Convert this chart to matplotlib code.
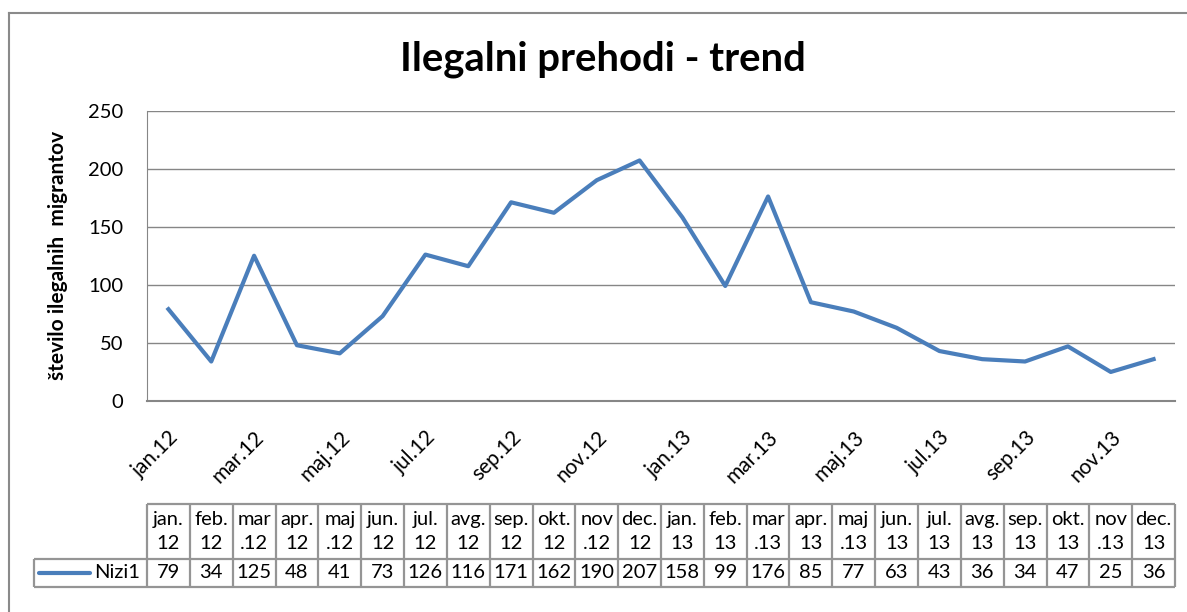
import matplotlib
matplotlib.use("Agg")
import matplotlib.pyplot as plt
from matplotlib.lines import Line2D
from matplotlib.transforms import ScaledTranslation

plt.rcParams['font.family'] = ['Lato', 'DejaVu Sans']

# ---------------- data ----------------
categories = ["jan.12", "feb.12", "mar.12", "apr.12", "maj.12", "jun.12",
              "jul.12", "avg.12", "sep.12", "okt.12", "nov.12", "dec.12",
              "jan.13", "feb.13", "mar.13", "apr.13", "maj.13", "jun.13",
              "jul.13", "avg.13", "sep.13", "okt.13", "nov.13", "dec.13"]
table_headers = ["jan.\n12", "feb.\n12", "mar\n.12", "apr.\n12", "maj\n.12", "jun.\n12",
                 "jul.\n12", "avg.\n12", "sep.\n12", "okt.\n12", "nov\n.12", "dec.\n12",
                 "jan.\n13", "feb.\n13", "mar\n.13", "apr.\n13", "maj\n.13", "jun.\n13",
                 "jul.\n13", "avg.\n13", "sep.\n13", "okt.\n13", "nov\n.13", "dec.\n13"]
values = [79, 34, 125, 48, 41, 73, 126, 116, 171, 162, 190, 207,
          158, 99, 176, 85, 77, 63, 43, 36, 34, 47, 25, 36]
series_name = "Nizi1"
yticks = [0, 50, 100, 150, 200, 250]
title = "Ilegalni prehodi - trend"
ylabel = "število ilegalnih  migrantov"

# ---------------- layout ----------------
W, H = 1187, 612
fig = plt.figure(figsize=(W / 100, H / 100), dpi=100)

def fx(px):
    return px / W

def fy(py):
    return 1 - py / H

line_color = "#4a7ebb"
grid_color = "#868686"
tbl_color = "#959595"
fs = 14.5

ax_l, ax_r = 147, 1175
ax_t, ax_b = 110.5, 401
ax = fig.add_axes([fx(ax_l), fy(ax_b), fx(ax_r - ax_l), (ax_b - ax_t) / H])
x = list(range(len(categories)))
ax.plot(x, values, color=line_color, lw=3.0, solid_joinstyle='round', zorder=3)
ax.set_xlim(-0.5, len(categories) - 0.5)
ax.set_ylim(0, 250)
ax.set_yticks(yticks)
ax.set_yticklabels([str(v) for v in yticks], fontsize=fs)
ax.yaxis.grid(True, color=grid_color, lw=1.0)
ax.set_axisbelow(True)
for s in ["top", "right"]:
    ax.spines[s].set_visible(False)
ax.spines["left"].set_color(grid_color)
ax.spines["bottom"].set_color(grid_color)
ax.spines["bottom"].set_linewidth(1.5)
ax.tick_params(axis='y', length=0, pad=17)
ax.tick_params(axis='x', length=0)

ax.set_xticks(x[::2])
ax.set_xticklabels(categories[::2], fontsize=15, rotation=45,
                   ha='right', va='center', rotation_mode='anchor')
offset = ScaledTranslation(7 / 100, -28 / 100, fig.dpi_scale_trans)
for lab in ax.get_xticklabels():
    lab.set_transform(lab.get_transform() + offset)

ax.set_ylabel(ylabel, fontsize=15, fontweight='bold')
ax.yaxis.set_label_coords((68 - ax_l) / (ax_r - ax_l), 0.5)

fig.text(fx(603), fy(59), title, fontsize=28.8, fontweight='bold',
         ha='center', va='center')

# ---------------- data table ----------------
tb_t, tb_m, tb_b = 504, 559, 587
tax = fig.add_axes([fx(ax_l), fy(tb_b), fx(ax_r - ax_l), (tb_b - tb_t) / H])
tax.set_xlim(-0.5, len(categories) - 0.5)
tax.set_ylim(0, tb_b - tb_t)
tax.axis('off')
row_h = tb_b - tb_m
hdr_top = tb_b - tb_t
n = len(categories)
col_w = (ax_r - ax_l) / n
leg_left = -0.5 - (ax_l - 33.5) / col_w

kw = dict(color=tbl_color, lw=1.6, clip_on=False, solid_capstyle='butt')
# horizontal lines
tax.plot([-0.5, n - 0.5], [hdr_top, hdr_top], **kw)
tax.plot([leg_left, n - 0.5], [row_h, row_h], **kw)
tax.plot([leg_left, n - 0.5], [0, 0], **kw)
# vertical lines
for i in range(n + 1):
    tax.plot([i - 0.5, i - 0.5], [0, hdr_top], **kw)
tax.plot([leg_left, leg_left], [0, row_h], **kw)

for i, (h, v) in enumerate(zip(table_headers, values)):
    tax.text(i, (row_h + hdr_top) / 2, h, ha='center', va='center',
             fontsize=fs, linespacing=1.45)
    tax.text(i, row_h / 2, str(v), ha='center', va='center', fontsize=fs)

# legend key
lk_x0 = leg_left + (39 - 33.5) / col_w
lk_x1 = leg_left + (90 - 33.5) / col_w
tax.plot([lk_x0, lk_x1], [row_h / 2, row_h / 2], color=line_color, lw=3.0,
         clip_on=False, solid_capstyle='round')
tax.text(-0.5 - (ax_l - 140) / col_w, row_h / 2, series_name, ha='right',
         va='center', fontsize=fs)

# ---------------- outer chart frame ----------------
fig.add_artist(Line2D([fx(8.5), fx(8.5)], [fy(13), 0], color='#8a8a8a', lw=1.5))
fig.add_artist(Line2D([fx(8.5), 1], [fy(13), fy(13)], color='#8a8a8a', lw=1.5))

fig.savefig("out.png", dpi=100, facecolor='white')
